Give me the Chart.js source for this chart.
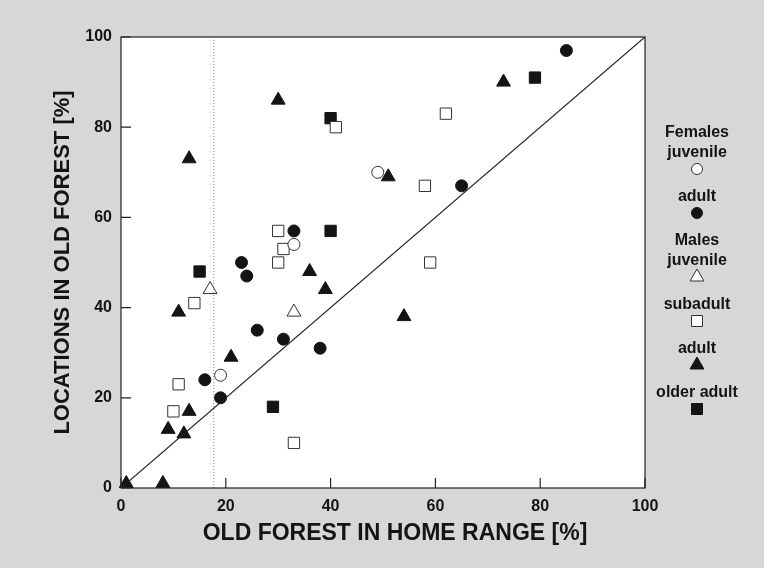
<!DOCTYPE html>
<html>
<head>
<meta charset="utf-8">
<script src="https://cdn.jsdelivr.net/npm/chart.js@4/dist/chart.umd.min.js"></script>
<style>
  html, body { margin: 0; padding: 0; background: #d8d6d9; }
  #wrap { width: 764px; height: 568px; }
</style>
</head>
<body>
<div id="wrap"><canvas id="myChart" width="764" height="568"></canvas></div>
<script>
// valores: [% floresta velha na área de vida, % localizações em floresta velha]
const femalesJuvenile = [[49, 70], [33, 54], [19, 25]]
const femalesAdult = [[85, 97], [65, 67], [33, 57], [23, 50], [24, 47], [26, 35], [31, 33], [38, 31], [16, 24], [19, 20]]
const malesJuvenile = [[17, 44], [33, 39]]
const malesSubadult = [[41, 80], [62, 83], [30, 57], [31, 53], [30, 50], [58, 67], [59, 50], [14, 41], [11, 23], [10, 17], [33, 10]]
const malesAdult = [[30, 86], [13, 73], [73, 90], [51, 69], [36, 48], [39, 44], [11, 39], [21, 29], [13, 17], [9, 13], [12, 12], [54, 38], [1, 1], [8, 1]]
const malesOlderAdult = [[40, 82], [79, 91], [40, 57], [15, 48], [29, 18]]

const identityLine = [[0, 0], [100, 100]]
const thresholdLine = [[17.7, 0], [17.7, 100]]
const axisTicks = [0, 20, 40, 60, 80, 100]

const xTitle = 'OLD FOREST IN HOME RANGE [%]'
const yTitle = 'LOCATIONS IN OLD FOREST [%]'

// legenda: linhas de texto e símbolo logo abaixo
const legendItems = [
  { lines: ['Females', 'juvenile'], style: 'circle', filled: false },
  { lines: ['adult'], style: 'circle', filled: true },
  { lines: ['Males', 'juvenile'], style: 'triangle', filled: false },
  { lines: ['subadult'], style: 'rect', filled: false },
  { lines: ['adult'], style: 'triangle', filled: true },
  { lines: ['older adult'], style: 'rect', filled: true }
]

const FONT = '"Liberation Sans", Arial, Helvetica, sans-serif'
const INK = '#141414'

const toPoints = arr => arr.map(p => ({ x: p[0], y: p[1] }))

function markerSet(label, data, style, filled) {
  return {
    type: 'scatter',
    label: label,
    data: toPoints(data),
    pointStyle: style,
    pointRadius: style === 'circle' ? 6 : 8,
    pointBackgroundColor: filled ? INK : '#ffffff',
    pointBorderColor: filled ? INK : '#333333',
    pointBorderWidth: 1,
    clip: false
  }
}

// desenha símbolo da legenda à mão
function drawSymbol(ctx, style, filled, x, y) {
  ctx.save()
  ctx.beginPath()
  if (style === 'circle') {
    ctx.arc(x, y, 5.5, 0, Math.PI * 2)
  } else if (style === 'triangle') {
    const r = 8
    ctx.moveTo(x, y - r)
    ctx.lineTo(x + r * 0.866, y + r * 0.5)
    ctx.lineTo(x - r * 0.866, y + r * 0.5)
    ctx.closePath()
  } else {
    ctx.rect(x - 5.5, y - 5.5, 11, 11)
  }
  ctx.fillStyle = filled ? INK : '#ffffff'
  ctx.fill()
  ctx.lineWidth = 1
  ctx.strokeStyle = filled ? INK : '#333333'
  ctx.stroke()
  ctx.restore()
}

const framePlugin = {
  id: 'frame',
  beforeDraw(chart) {
    const { ctx, chartArea: a } = chart
    ctx.save()
    ctx.fillStyle = '#d8d6d9'
    ctx.fillRect(0, 0, chart.width, chart.height)
    ctx.fillStyle = '#ffffff'
    ctx.fillRect(a.left, a.top, a.right - a.left, a.bottom - a.top)
    ctx.restore()
  },
  afterDatasetsDraw(chart) {
    const { ctx, chartArea: a, scales } = chart
    ctx.save()
    ctx.strokeStyle = '#222222'
    ctx.lineWidth = 1.2
    ctx.strokeRect(a.left, a.top, a.right - a.left, a.bottom - a.top)
    // marcas dos eixos voltadas para dentro
    ctx.beginPath()
    axisTicks.forEach(v => {
      const yy = scales.y.getPixelForValue(v)
      ctx.moveTo(a.left, yy)
      ctx.lineTo(a.left + 10, yy)
      const xx = scales.x.getPixelForValue(v)
      ctx.moveTo(xx, a.bottom)
      ctx.lineTo(xx, a.bottom - 10)
    })
    ctx.stroke()

    ctx.fillStyle = INK
    ctx.textAlign = 'center'
    ctx.textBaseline = 'middle'

    // título do eixo x (um pouco à direita do centro, como no original)
    ctx.font = 'bold 23px ' + FONT
    ctx.fillText(xTitle, 395, 534)

    // legenda à direita
    const cx = 697
    let y = 133
    ctx.font = 'bold 16px ' + FONT
    legendItems.forEach(item => {
      item.lines.forEach((line, i) => {
        if (i > 0) y += 20
        ctx.fillText(line, cx, y)
      })
      y += 16
      drawSymbol(ctx, item.style, item.filled, cx, y)
      y += 28
    })
    ctx.restore()
  }
}

const ctx = document.getElementById('myChart').getContext('2d')

new Chart(ctx, {
  type: 'scatter',
  data: {
    datasets: [
      {
        type: 'line',
        label: '1:1',
        data: toPoints(identityLine),
        borderColor: '#222222',
        borderWidth: 1.2,
        pointRadius: 0,
        fill: false
      },
      {
        type: 'line',
        label: 'limite',
        data: toPoints(thresholdLine),
        borderColor: '#8a8a8a',
        borderWidth: 1,
        borderDash: [1, 2],
        pointRadius: 0,
        fill: false
      },
      markerSet('Females juvenile', femalesJuvenile, 'circle', false),
      markerSet('Females adult', femalesAdult, 'circle', true),
      markerSet('Males juvenile', malesJuvenile, 'triangle', false),
      markerSet('Males subadult', malesSubadult, 'rect', false),
      markerSet('Males adult', malesAdult, 'triangle', true),
      markerSet('Males older adult', malesOlderAdult, 'rect', true)
    ]
  },
  options: {
    responsive: false,
    animation: false,
    layout: { padding: { top: 37, right: 119, left: 0, bottom: 0 } },
    plugins: {
      legend: { display: false },
      tooltip: { enabled: false }
    },
    scales: {
      x: {
        type: 'linear',
        min: 0,
        max: 100,
        afterFit: axis => { axis.height = 80 },
        afterBuildTicks: axis => { axis.ticks = axisTicks.map(v => ({ value: v })) },
        grid: { display: false, drawTicks: false },
        border: { display: false },
        ticks: { color: INK, padding: 9, font: { family: FONT, size: 16, weight: 'bold' } }
      },
      y: {
        type: 'linear',
        min: 0,
        max: 100,
        afterFit: axis => { axis.width = 121 },
        afterBuildTicks: axis => { axis.ticks = axisTicks.map(v => ({ value: v })) },
        grid: { display: false, drawTicks: false },
        border: { display: false },
        ticks: { color: INK, padding: 9, font: { family: FONT, size: 16, weight: 'bold' } },
        title: {
          display: true,
          text: yTitle,
          color: INK,
          font: { family: FONT, size: 22, weight: 'bold' },
          padding: { top: 50, bottom: 0 }
        }
      }
    }
  },
  plugins: [framePlugin]
})
</script>
</body>
</html>
